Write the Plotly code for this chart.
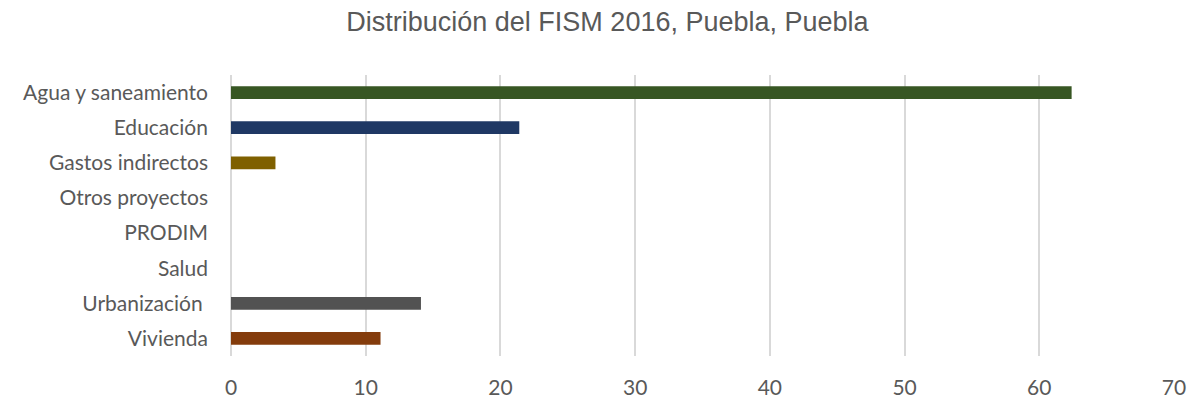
import plotly.graph_objects as go

categories = ["Agua y saneamiento", "Educación", "Gastos indirectos", "Otros proyectos",
              "PRODIM", "Salud", "Urbanización\u00a0", "Vivienda"]
values = [62.4, 21.4, 3.3, 0, 0, 0, 14.1, 11.1]
colors = ["#375623", "#1F3864", "#7F6000", "#FFFFFF", "#FFFFFF", "#FFFFFF", "#525252", "#843C0C"]
x_ticks = [0, 10, 20, 30, 40, 50, 60, 70]

fig = go.Figure(go.Bar(
    x=values, y=categories, orientation="h",
    marker=dict(color=colors, line=dict(width=0)),
    width=0.36,
))

fig.update_layout(
    width=1187, height=392,
    margin=dict(l=223, r=21, t=67, b=44),
    paper_bgcolor="white", plot_bgcolor="white",
    title=dict(text="Distribución del FISM 2016, Puebla, Puebla",
               x=0.505, xanchor="center", y=0.965, yanchor="middle",
               font=dict(family="Liberation Sans Narrow, Arial Narrow, Liberation Sans", size=27, color="#595959")),
    font=dict(family="Lato, Open Sans, sans-serif", size=21, color="#595959"),
    showlegend=False,
    bargap=0.64,
)
fig.update_xaxes(range=[0, 70], tickvals=x_ticks, showgrid=True, gridcolor="#D9D9D9", gridwidth=1.5,
                 zeroline=True, zerolinecolor="#D9D9D9", zerolinewidth=1.5,
                 showline=False, ticks="", ticklabelstandoff=17, automargin=False,
                 tickfont=dict(size=21, color="#595959"))
fig.update_yaxes(autorange="reversed", showgrid=False, showline=False, ticks="",
                 ticklabelstandoff=22, automargin=False, tickfont=dict(size=21, color="#595959"))

fig.write_html("out.html")
